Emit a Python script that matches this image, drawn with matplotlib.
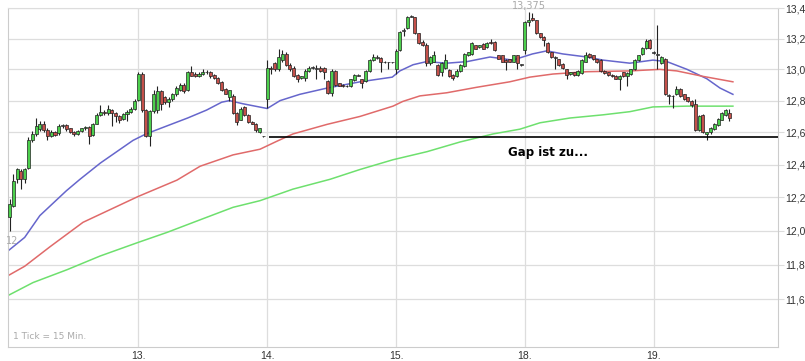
import numpy as np
import matplotlib.pyplot as plt
from matplotlib.ticker import FixedLocator, NullLocator

# 15-Minuten-Kerzen, 34 pro Handelstag (12., 13., 14., 15., 18., 19.)
opens = [
    12.08, 12.15, 12.31, 12.36, 12.31, 12.38, 12.55, 12.59, 12.62, 12.655, 12.615, 12.575, 12.605, 12.595, 12.64, 12.645, 12.625,
    12.605, 12.59, 12.61, 12.625, 12.635, 12.585, 12.655, 12.71, 12.73, 12.72, 12.74, 12.72, 12.70, 12.685, 12.715, 12.73, 12.745,
    12.805, 12.97, 12.74, 12.575, 12.735, 12.74, 12.86, 12.82, 12.79, 12.81, 12.84, 12.865, 12.90, 12.865, 12.985, 12.97, 12.955,
    12.97, 12.985, 12.98, 12.965, 12.945, 12.92, 12.875, 12.825, 12.83, 12.72, 12.68, 12.76, 12.71, 12.665, 12.655, 12.60, 12.575,
    12.81, 13.01, 13.04, 13.00, 13.06, 13.10, 13.03, 13.01, 12.965, 12.945, 12.945, 12.99, 13.01, 13.01, 13.01, 13.01, 12.925,
    12.85, 12.99, 12.91, 12.90, 12.895, 12.89, 12.93, 12.965, 12.935, 12.925, 12.99, 13.06, 13.075, 13.075, 13.05, 13.045, 13.045,
    13.00, 13.125, 13.25, 13.27, 13.345, 13.34, 13.235, 13.18, 13.155, 13.04, 13.05, 13.03, 12.985, 13.01, 12.995, 12.965, 12.955,
    12.99, 13.02, 13.09, 13.10, 13.155, 13.145, 13.165, 13.145, 13.18, 13.18, 13.09, 13.09, 13.06, 13.065, 13.05, 13.09, 13.03,
    13.125, 13.31, 13.335, 13.32, 13.235, 13.21, 13.17, 13.11, 13.08, 13.065, 13.035, 13.00, 12.97, 12.98, 12.965, 12.975, 13.05,
    13.10, 13.09, 13.065, 13.06, 12.99, 12.98, 12.965, 12.96, 12.935, 12.98, 12.955, 12.97, 13.00, 13.06, 13.10, 13.14, 13.19,
    13.11, 13.10, 13.04, 13.07, 12.835, 12.83, 12.84, 12.875, 12.84, 12.82, 12.80, 12.78, 12.615, 12.71, 12.59, 12.60, 12.62,
    12.645, 12.68, 12.71, 12.72,
]
highs = [
    12.19, 12.34, 12.38, 12.37, 12.38, 12.57, 12.61, 12.69, 12.67, 12.67, 12.625, 12.615, 12.61, 12.65, 12.655, 12.65, 12.63,
    12.61, 12.615, 12.63, 12.64, 12.64, 12.66, 12.72, 12.77, 12.74, 12.77, 12.75, 12.73, 12.71, 12.72, 12.74, 12.76, 12.81,
    12.98, 12.98, 12.75, 12.74, 12.87, 12.89, 12.87, 12.83, 12.82, 12.85, 12.89, 12.91, 12.91, 12.99, 13.02, 12.98, 12.98,
    13.00, 12.995, 12.99, 12.97, 12.95, 12.925, 12.88, 12.87, 12.84, 12.725, 12.76, 12.765, 12.715, 12.67, 12.66, 12.63, 12.58,
    13.06, 13.02, 13.05, 13.135, 13.125, 13.11, 13.04, 13.02, 12.97, 12.96, 13.00, 13.02, 13.02, 13.03, 13.02, 13.015, 12.93,
    13.00, 12.995, 12.915, 12.905, 12.90, 12.94, 12.97, 12.97, 12.94, 12.995, 13.065, 13.10, 13.09, 13.08, 13.055, 13.05, 13.05,
    13.13, 13.25, 13.27, 13.35, 13.355, 13.345, 13.24, 13.19, 13.17, 13.085, 13.12, 13.035, 13.05, 13.10, 13.00, 12.97, 13.00,
    13.035, 13.105, 13.115, 13.175, 13.16, 13.16, 13.17, 13.175, 13.195, 13.185, 13.095, 13.095, 13.065, 13.07, 13.095, 13.095, 13.035,
    13.315, 13.375, 13.37, 13.325, 13.24, 13.215, 13.175, 13.115, 13.085, 13.07, 13.04, 13.005, 12.985, 12.985, 12.995, 13.065, 13.11,
    13.105, 13.095, 13.07, 13.065, 12.995, 12.985, 12.97, 12.965, 12.965, 12.985, 12.98, 13.005, 13.065, 13.095, 13.145, 13.20, 13.195,
    13.12, 13.29, 13.085, 13.075, 12.84, 12.835, 12.89, 12.88, 12.845, 12.825, 12.805, 12.81, 12.71, 12.715, 12.605, 12.635, 12.66,
    12.69, 12.725, 12.75, 12.75,
]
lows = [
    12.00, 12.14, 12.29, 12.25, 12.29, 12.37, 12.54, 12.58, 12.61, 12.60, 12.55, 12.57, 12.58, 12.585, 12.63, 12.61, 12.595,
    12.58, 12.585, 12.60, 12.615, 12.53, 12.575, 12.65, 12.70, 12.71, 12.71, 12.64, 12.665, 12.66, 12.675, 12.67, 12.72, 12.74,
    12.80, 12.73, 12.57, 12.515, 12.72, 12.72, 12.74, 12.78, 12.76, 12.80, 12.83, 12.86, 12.85, 12.86, 12.955, 12.95, 12.95,
    12.965, 12.97, 12.945, 12.94, 12.905, 12.86, 12.84, 12.80, 12.715, 12.645, 12.675, 12.705, 12.66, 12.65, 12.60, 12.595, 12.57,
    12.755, 12.97, 12.99, 12.99, 13.05, 13.02, 12.99, 12.95, 12.92, 12.94, 12.925, 12.985, 13.00, 12.94, 12.98, 12.935, 12.845,
    12.83, 12.895, 12.89, 12.885, 12.885, 12.885, 12.925, 12.955, 12.88, 12.92, 12.985, 13.055, 13.07, 12.98, 13.04, 13.00, 13.04,
    12.97, 13.12, 13.22, 13.265, 13.34, 13.23, 13.165, 13.15, 13.02, 13.03, 13.045, 12.96, 12.96, 13.005, 12.95, 12.93, 12.95,
    12.985, 13.015, 13.085, 13.095, 13.13, 13.14, 13.13, 13.14, 13.165, 13.12, 13.065, 13.045, 12.995, 13.045, 13.045, 13.00, 13.025,
    13.10, 13.28, 13.315, 13.23, 13.205, 13.15, 13.105, 13.075, 13.00, 13.025, 13.005, 12.935, 12.965, 12.96, 12.96, 12.97, 13.045,
    13.075, 13.06, 13.04, 12.985, 12.97, 12.96, 12.95, 12.935, 12.87, 12.95, 12.89, 12.965, 12.995, 13.055, 13.095, 13.135, 13.135,
    13.10, 13.00, 13.035, 12.835, 12.78, 12.755, 12.835, 12.825, 12.805, 12.79, 12.76, 12.61, 12.61, 12.595, 12.555, 12.59, 12.615,
    12.64, 12.675, 12.705, 12.67,
]
closes = [
    12.16, 12.30, 12.37, 12.31, 12.37, 12.55, 12.59, 12.64, 12.655, 12.615, 12.575, 12.605, 12.585, 12.64, 12.645, 12.62, 12.605,
    12.59, 12.61, 12.625, 12.635, 12.58, 12.655, 12.71, 12.73, 12.72, 12.75, 12.72, 12.70, 12.68, 12.715, 12.73, 12.75, 12.80,
    12.97, 12.74, 12.575, 12.735, 12.84, 12.86, 12.78, 12.79, 12.81, 12.84, 12.88, 12.90, 12.86, 12.98, 12.96, 12.955, 12.97,
    12.985, 12.98, 12.96, 12.945, 12.91, 12.865, 12.845, 12.865, 12.72, 12.665, 12.75, 12.71, 12.665, 12.655, 12.615, 12.625, 12.575,
    13.01, 13.00, 13.00, 13.08, 13.10, 13.03, 13.00, 12.955, 12.935, 12.955, 12.99, 13.01, 13.015, 13.005, 12.99, 12.98, 12.85,
    12.99, 12.90, 12.895, 12.89, 12.89, 12.935, 12.965, 12.96, 12.915, 12.99, 13.06, 13.08, 13.08, 13.05, 13.045, 13.045, 13.045,
    13.12, 13.245, 13.255, 13.345, 13.35, 13.235, 13.17, 13.155, 13.04, 13.08, 13.09, 12.965, 13.04, 13.06, 12.955, 12.945, 12.99,
    13.03, 13.10, 13.11, 13.17, 13.135, 13.155, 13.135, 13.17, 13.17, 13.125, 13.07, 13.05, 13.045, 13.05, 13.09, 13.04, 13.03,
    13.31, 13.32, 13.32, 13.235, 13.21, 13.19, 13.11, 13.08, 13.075, 13.03, 13.01, 12.965, 12.98, 12.965, 12.99, 13.06, 13.09,
    13.08, 13.065, 13.045, 12.99, 12.975, 12.965, 12.955, 12.94, 12.96, 12.955, 12.975, 13.00, 13.06, 13.09, 13.14, 13.185, 13.14,
    13.105, 13.095, 13.08, 12.84, 12.83, 12.83, 12.875, 12.83, 12.81, 12.795, 12.77, 12.615, 12.705, 12.60, 12.60, 12.63, 12.655,
    12.685, 12.72, 12.74, 12.69,
]

day_start = [34, 68, 102, 136, 170]
day_labels = ['13.', '14.', '15.', '18.', '19.']

# gleitende Durchschnitte (Kerzenindex / Kurs)
blue_x = [-0.4, 4, 8, 15, 18.6, 24, 32.6, 36, 41.5, 47, 52, 56, 58, 61.6, 68, 71.4, 76.6, 83.8, 92.5, 101,
          103, 106.5, 110, 115.4, 120.7, 126.8, 132.8, 138, 141.8, 146, 152.4, 156.6, 163.7, 169.8, 173.5,
          178.8, 184, 187.5, 190.9]
blue_y = [11.88, 11.96, 12.09, 12.24, 12.31, 12.41, 12.55, 12.59, 12.64, 12.69, 12.74, 12.79, 12.80, 12.78,
          12.75, 12.80, 12.84, 12.88, 12.92, 12.95, 12.99, 13.03, 13.05, 13.04, 13.05, 13.08, 13.06, 13.10,
          13.12, 13.10, 13.08, 13.06, 13.04, 13.06, 13.05, 13.00, 12.94, 12.88, 12.84]
red_x = [-0.4, 4, 10.7, 19.4, 33.9, 44.2, 50.3, 59, 66.1, 70.6, 74.8, 83.8, 92.5, 101.2, 103.8, 108.3,
         115.4, 123.3, 132, 137.3, 143.4, 152.4, 163.7, 171.6, 176.1, 183, 190.9]
red_y = [11.735, 11.79, 11.905, 12.05, 12.205, 12.305, 12.39, 12.46, 12.495, 12.545, 12.59, 12.65, 12.70,
         12.765, 12.795, 12.83, 12.85, 12.885, 12.92, 12.95, 12.97, 12.985, 12.99, 13.00, 12.99, 12.955, 12.92]
green_x = [-0.4, 6.2, 15.2, 23.9, 33.9, 41.6, 50.3, 59, 66.1, 74.8, 84.6, 92.5, 101.2, 110.2, 118.9,
           127.6, 134.7, 140, 147.9, 156.6, 163.7, 169.8, 178.8, 190.9]
green_y = [11.62, 11.695, 11.77, 11.85, 11.93, 11.99, 12.065, 12.14, 12.18, 12.25, 12.31, 12.37, 12.43,
           12.48, 12.54, 12.59, 12.62, 12.66, 12.69, 12.71, 12.73, 12.76, 12.765, 12.765]

gap_level = 12.57
y_ticks = [11.6, 11.8, 12.0, 12.2, 12.4, 12.6, 12.8, 13.0, 13.2, 13.4]

o = np.array(opens)
h = np.array(highs)
l = np.array(lows)
c = np.array(closes)
x = np.arange(len(c))

fig = plt.figure(figsize=(8.05, 3.61), dpi=100)
ax = fig.add_axes([8 / 805, 14 / 361, 770 / 805, 339 / 361])
ax.set_yscale('log')

# Kerzen
up = c >= o
doji = np.abs(c - o) < 0.006
ax.vlines(x, l, h, color='#222222', linewidth=0.8, zorder=3)
body_lo = np.minimum(o, c)
body_h = np.maximum(np.abs(c - o), 0.002)
cols = np.where(up, '#4ccf4c', '#c4504a')
cols = np.where(doji, '#999999', cols)
ax.bar(x, body_h, bottom=body_lo, width=0.8, color=cols, edgecolor='#222222',
       linewidth=0.5, zorder=4)

ax.plot(blue_x, blue_y, color='#6666cc', lw=1.1, zorder=2)
ax.plot(red_x, red_y, color='#e06a6a', lw=1.1, zorder=2)
ax.plot(green_x, green_y, color='#6ee06e', lw=1.1, zorder=2)

ax.hlines(gap_level, 68.6, 203, color='black', lw=1.2, zorder=5)
ax.text(131.5, 12.475, 'Gap ist zu...', fontsize=8.5, fontweight='bold',
        ha='left', va='center', color='black')

ax.annotate('13,375', (137, max(highs)), xytext=(0, 6), textcoords='offset pixels',
            ha='center', va='center', fontsize=7, color='#aaaaaa', annotation_clip=False)
ax.annotate('12', (0, min(lows)), xytext=(3, -10), textcoords='offset pixels',
            ha='center', va='center', fontsize=7, color='#aaaaaa')
ax.text(0.007, 0.018, '1 Tick = 15 Min.', transform=ax.transAxes, fontsize=6.5,
        color='#aaaaaa', ha='left', va='bottom')

ax.set_xlim(-0.4, 202.8)
ax.set_ylim(11.327, 13.402)

ax.yaxis.set_major_locator(FixedLocator(y_ticks))
ax.yaxis.set_minor_locator(NullLocator())
ax.set_yticklabels([('%.1f' % v).replace('.', ',') for v in y_ticks])
ax.yaxis.tick_right()
ax.tick_params(axis='y', length=4, color='#dddddd', labelsize=7.5, pad=1,
               labelcolor='#333333')
ax.set_xticks(day_start)
ax.set_xticklabels(day_labels)
ax.tick_params(axis='x', length=0, labelsize=7.5, pad=3, labelcolor='#333333')
for lab in ax.get_xticklabels() + ax.get_yticklabels():
    lab.set_family(['Liberation Sans', 'DejaVu Sans'])

ax.grid(True, color='#dddddd', linewidth=0.9)
ax.set_axisbelow(True)
for side in ['left', 'bottom', 'right']:
    ax.spines[side].set_color('#cccccc')
ax.spines['top'].set_color('#dddddd')

fig.savefig('out.png', dpi=100)
